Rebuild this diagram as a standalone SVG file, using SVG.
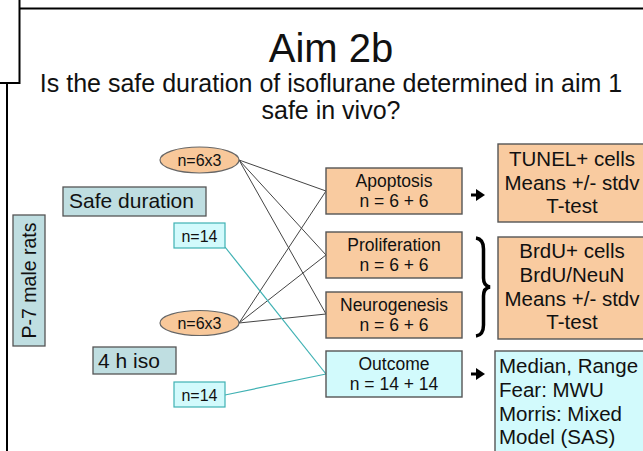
<svg xmlns="http://www.w3.org/2000/svg" width="643" height="451" viewBox="0 0 643 451">
<defs>
<style>
text{font-family:"Liberation Sans",Arial,sans-serif;fill:#111}
.frame{stroke:#000;stroke-width:2;fill:none}
.grp{fill:#BFDEE1;stroke:#555;stroke-width:1.3}
.ell{fill:#F8C89A;stroke:#666;stroke-width:1.2}
.nbox{fill:#D2FAFC;stroke:#3FB1B3;stroke-width:1.2}
.org{fill:#F9CBA0;stroke:#555;stroke-width:1.4}
.cyn{fill:#D2FAFC;stroke:#555;stroke-width:1.4}
.ln{stroke:#444;stroke-width:1;fill:none}
.tl{stroke:#3FB1B3;stroke-width:1.2;fill:none}
.arr{stroke:#000;stroke-width:3;fill:none}
.c{text-anchor:middle}
</style>
<marker id="ah" markerWidth="4" markerHeight="4" refX="1" refY="2" orient="auto" markerUnits="strokeWidth">
<path d="M0,0 L3,2 L0,4 Z" fill="#000"/>
</marker>
</defs>
<rect width="643" height="451" fill="#fff"/>
<g id="frame">
<path class="frame" d="M19.5,0 V83 H0 M19.5,8.5 H643 M7,83 V451"/>
</g>
<g id="title">
<text x="331" y="62" class="c" font-size="40">Aim 2b</text>
<text x="331" y="92" class="c" font-size="25">Is the safe duration of isoflurane determined in aim 1</text>
<text x="331" y="119" class="c" font-size="25">safe in vivo?</text>
</g>
<g id="connectors">
<line class="ln" x1="239" y1="160" x2="326" y2="191"/>
<line class="ln" x1="239" y1="160" x2="326" y2="255"/>
<line class="ln" x1="239" y1="160" x2="326" y2="314"/>
<line class="ln" x1="239" y1="323" x2="326" y2="191"/>
<line class="ln" x1="239" y1="323" x2="326" y2="255"/>
<line class="ln" x1="239" y1="323" x2="326" y2="314"/>
<line class="tl" x1="225" y1="247" x2="326" y2="374"/>
<line class="tl" x1="225" y1="395" x2="326" y2="374"/>
<line class="arr" x1="471" y1="195" x2="479" y2="195" marker-end="url(#ah)"/>
<line class="arr" x1="471" y1="374" x2="479" y2="374" marker-end="url(#ah)"/>
<path d="M476,238 Q483.5,239 483.5,249 L483.5,278 Q483.5,286 490,287 Q483.5,288 483.5,296 L483.5,325 Q483.5,335 476,336" fill="none" stroke="#000" stroke-width="3.5"/>
</g>
<g id="p7">
<rect class="grp" x="13" y="215" width="32" height="131"/>
<text transform="translate(35.5,280.5) rotate(-90)" class="c" font-size="19.5">P-7 male rats</text>
</g>
<g id="safe">
<rect class="grp" x="63" y="187" width="143" height="29"/>
<text x="69" y="208" font-size="21">Safe duration</text>
</g>
<g id="iso">
<rect class="grp" x="93" y="347" width="83" height="27"/>
<text x="98" y="367.5" font-size="21">4 h iso</text>
</g>
<g id="ell1">
<ellipse class="ell" cx="199.5" cy="160" rx="39.5" ry="13"/>
<text x="199.5" y="166" class="c" font-size="16">n=6x3</text>
</g>
<g id="ell2">
<ellipse class="ell" cx="199.5" cy="323" rx="39.5" ry="12.5"/>
<text x="199.5" y="329" class="c" font-size="16">n=6x3</text>
</g>
<g id="n14a">
<rect class="nbox" x="174" y="223" width="51" height="25"/>
<text x="199.5" y="241.5" class="c" font-size="16">n=14</text>
</g>
<g id="n14b">
<rect class="nbox" x="174" y="382" width="51" height="25"/>
<text x="199.5" y="400.5" class="c" font-size="16">n=14</text>
</g>
<g id="apoptosis">
<rect class="org" x="326" y="168" width="136" height="46"/>
<text x="394" y="187" class="c" font-size="17.5">Apoptosis</text>
<text x="394" y="207" class="c" font-size="17.5">n = 6 + 6</text>
</g>
<g id="proliferation">
<rect class="org" x="326" y="232" width="136" height="46"/>
<text x="394" y="251" class="c" font-size="17.5">Proliferation</text>
<text x="394" y="271" class="c" font-size="17.5">n = 6 + 6</text>
</g>
<g id="neurogenesis">
<rect class="org" x="326" y="292" width="136" height="46"/>
<text x="394" y="311" class="c" font-size="17.5">Neurogenesis</text>
<text x="394" y="331" class="c" font-size="17.5">n = 6 + 6</text>
</g>
<g id="outcome">
<rect class="cyn" x="326" y="351" width="136" height="46"/>
<text x="394" y="370" class="c" font-size="17.5">Outcome</text>
<text x="394" y="390" class="c" font-size="17.5">n = 14 + 14</text>
</g>
<g id="tunel">
<rect class="org" x="498" y="144" width="150" height="78"/>
<text x="572" y="166" class="c" font-size="20.5">TUNEL+ cells</text>
<text x="572" y="190" class="c" font-size="20.5">Means +/- stdv</text>
<text x="572" y="213" class="c" font-size="20.5">T-test</text>
</g>
<g id="brdu">
<rect class="org" x="498" y="237" width="150" height="102"/>
<text x="572" y="258" class="c" font-size="20.5">BrdU+ cells</text>
<text x="572" y="282" class="c" font-size="20.5">BrdU/NeuN</text>
<text x="572" y="306" class="c" font-size="20.5">Means +/- stdv</text>
<text x="572" y="329" class="c" font-size="20.5">T-test</text>
</g>
<g id="stats">
<rect class="cyn" x="495" y="351" width="153" height="105"/>
<text x="499" y="373" font-size="20.5">Median, Range</text>
<text x="499" y="397" font-size="20.5">Fear: MWU</text>
<text x="499" y="421" font-size="20.5">Morris: Mixed</text>
<text x="499" y="444" font-size="20.5">Model (SAS)</text>
</g>
</svg>
